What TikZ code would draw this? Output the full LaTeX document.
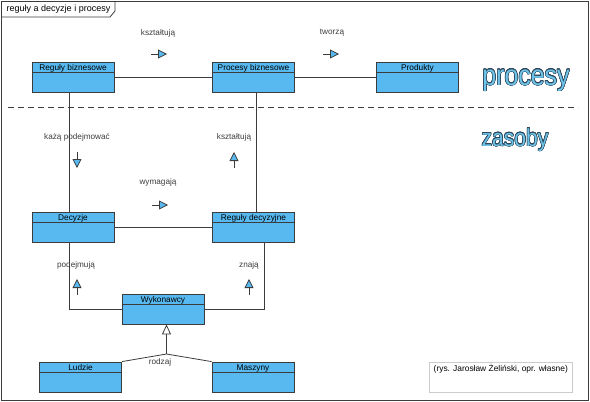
\documentclass[tikz,border=0pt]{standalone}
\usepackage{fontspec}
\setmainfont{Liberation Sans}
\usepackage[copies]{contour}
\usetikzlibrary{arrows.meta}
\definecolor{niebieski}{RGB}{87,185,240}
\definecolor{ramka}{RGB}{60,60,60}
\definecolor{napis}{RGB}{110,195,232}
\definecolor{obrys}{RGB}{45,70,90}
\contourlength{0.6pt}

\begin{document}
\begin{tikzpicture}[x=1pt, y=-1pt, line width=0.8pt, draw=ramka,
        klasa/.style={draw=ramka, fill=niebieski, minimum width=82pt, inner xsep=0pt, inner ysep=2pt,
            text height=6.5pt, text depth=19.5pt, font=\fontsize{8.3}{10}\selectfont},
        opis/.style={font=\fontsize{8.2}{10}\selectfont, text=ramka},
        kierunek/.style={draw=ramka, -{Triangle[length=9pt, width=9pt, fill=niebieski]}}]
            \useasboundingbox (0,0) rectangle (590,402);
            % ramka i tytul
            \draw (1,1) rectangle (588,400);
            \draw (1,17) -- (110,17) -- (115,11) -- (115,1);
            \node[anchor=west, font=\fontsize{9}{11}\selectfont] (tytul) at (3,9) {reguły a decyzje i procesy};
            \draw[dash pattern=on 6pt off 4pt] (8,107) -- (578,107);
            \node[anchor=base, font=\fontsize{29}{30}\selectfont] (procesy) at (526,85) {\scalebox{0.86}[1]{\contour{obrys}{\textcolor{napis}{procesy}}}};
            \node[anchor=base, font=\fontsize{24.5}{26}\selectfont] (zasoby) at (515,146) {\scalebox{0.86}[1]{\contour{obrys}{\textcolor{napis}{zasoby}}}};
            % klasy
            \node[klasa] (rb) at (73,77) {Reguły biznesowe};
            \node[klasa] (pb) at (253.5,77) {Procesy biznesowe};
            \node[klasa] (pr) at (417.5,77) {Produkty};
            \node[klasa] (de) at (73,227) {Decyzje};
            \node[klasa] (rd) at (253.5,227) {Reguły decyzyjne};
            \node[klasa] (wy) at (163,309) {Wykonawcy};
            \node[klasa] (lu) at (80.5,377) {Ludzie};
            \node[klasa] (ma) at (253,377) {Maszyny};
            \foreach \n in {rb,pb,pr,de,rd,wy,lu,ma}
                \draw ([yshift=-11pt]\n.north west) -- ([yshift=-11pt]\n.north east);
            % powiazania
            \draw (rb) -- (pb);
            \draw (pb) -- (pr);
            \draw (de) -- (rd);
            \draw ([xshift=-4pt]rb.south) -- ([xshift=-4pt]de.north);
            \draw ([xshift=2.5pt]pb.south) -- ([xshift=2.5pt]rd.north);
            \draw ([xshift=-4pt]de.south) |- (wy);
            \draw ([xshift=10.5pt]rd.south) |- (wy);
            \coordinate (rodz) at (166.5,354);
            \draw (lu.north east) -- (rodz) -- (ma.north west);
            \draw[-{Triangle[open, length=10pt, width=9pt]}] (rodz) -- ([xshift=3.5pt]wy.south);
            % opisy i kierunki
            \node[opis] (o1) at (158,33) {kształtują};
            \draw[kierunek] (151,54) -- (167,54);
            \node[opis] (o2) at (332,33) {tworzą};
            \draw[kierunek] (323,54) -- (339,54);
            \node[opis] (o3) at (77,137) {każą podejmować};
            \draw[kierunek] (77,152) -- (77,168);
            \node[opis] (o4) at (234,137) {kształtują};
            \draw[kierunek] (234,168) -- (234,152);
            \node[opis] (o5) at (158,182) {wymagają};
            \draw[kierunek] (152,205) -- (168,205);
            \node[opis] (o6) at (76,265) {podejmują};
            \draw[kierunek] (77,295) -- (77,279);
            \node[opis] (o7) at (249,265) {znają};
            \draw[kierunek] (249,295) -- (249,279);
            \node[opis] (o8) at (160,362) {rodzaj};
            % zrodlo
            \draw[gray!40, line width=0.6pt] (429,362) rectangle (572,392);
            \node[anchor=west, font=\fontsize{8.4}{10}\selectfont] (zrodlo) at (430,369) {(rys. Jarosław Żeliński, opr. własne)};
        \end{tikzpicture}
\end{document}
